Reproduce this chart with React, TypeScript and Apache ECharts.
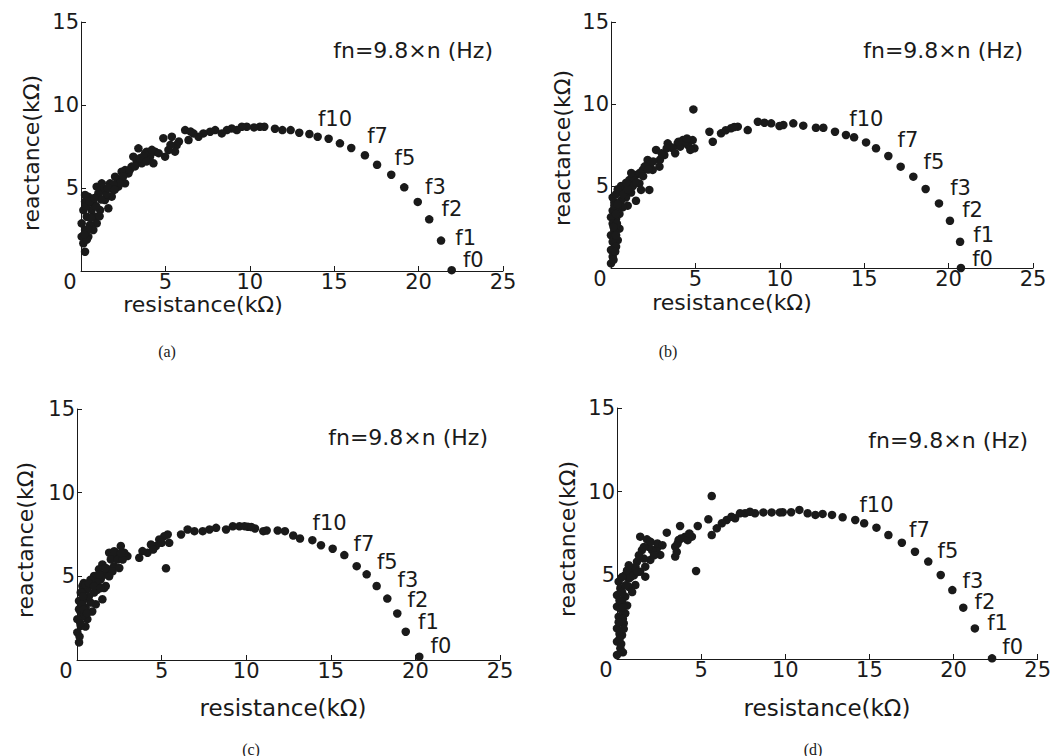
import React, { useEffect, useRef } from "react";
import * as echarts from "echarts";

// ---------- data ----------
const panelNames = ["(a)", "(b)", "(c)", "(d)"];
const freqNote = "fn=9.8×n (Hz)";
const xTitle = "resistance(kΩ)";
const yTitle = "reactance(kΩ)";
const xRange = [0, 25];
const xStep = 5;
const yRange = [0, 15];
const yStep = 5;
const labelledHarmonics = [0, 1, 2, 3, 5, 7, 10];

// [resistance kΩ, reactance kΩ], ordered from f0 (lowest frequency) upward
const pointsA: [number, number][] = [
  [21.96, 0.05], [21.33, 1.83], [20.63, 3.11], [19.95, 4.16], [19.15, 5.04], [18.38, 5.8], [17.54, 6.4], [16.82, 6.97],
  [16.01, 7.41], [15.34, 7.69], [14.67, 7.97], [14.02, 8.09], [13.53, 8.25], [12.93, 8.33], [12.42, 8.49], [11.93, 8.49],
  [11.49, 8.57], [10.86, 8.69], [10.6, 8.69], [10.25, 8.65], [9.82, 8.69], [9.53, 8.69], [9.23, 8.49], [8.93, 8.59],
  [8.64, 8.49], [8.34, 8.29], [7.95, 8.49], [7.65, 8.39], [7.25, 8.29], [6.96, 8.09], [6.66, 8.29], [6.37, 7.89],
  [6.17, 8.49], [6.5, 8.4], [5.67, 7.59], [5.57, 7.19], [5.38, 8.09], [5.18, 7.29], [4.98, 6.89], [4.88, 8.0],
  [4.39, 7.19], [4.29, 6.49], [4.09, 6.89], [3.89, 7.19], [3.8, 7.09], [3.6, 6.49], [3.4, 7.39], [3.3, 6.59],
  [3.1, 6.89], [3.0, 6.29], [2.81, 5.88], [2.61, 6.08], [2.41, 5.98], [2.61, 5.28], [2.21, 5.48], [2.21, 5.08],
  [2.02, 5.68], [1.72, 5.28], [1.92, 4.88], [1.82, 4.48], [1.32, 4.88], [1.23, 5.28], [1.62, 3.78], [1.42, 4.28],
  [1.03, 4.68], [0.93, 5.08], [0.73, 4.08], [0.43, 4.48], [0.24, 4.18], [0.24, 4.58], [1.13, 3.67], [0.63, 3.67],
  [0.14, 3.67], [0.34, 3.27], [0.83, 3.27], [0.93, 2.87], [0.53, 2.77], [0.04, 2.87], [0.24, 2.47], [0.73, 2.47],
  [0.04, 2.07], [0.43, 2.07], [0.14, 1.67], [0.24, 1.16], [2.9, 6.1], [3.2, 6.3], [3.5, 6.8], [3.7, 6.9],
  [2.5, 5.7], [2.3, 5.3], [1.9, 5.2], [1.5, 4.6], [1.6, 5.0], [1.2, 4.3], [0.9, 3.9], [0.6, 3.2],
  [0.4, 2.5], [0.3, 3.9], [0.5, 4.2], [0.8, 4.4], [4.6, 7.1], [4.2, 7.3], [5.3, 7.6], [5.8, 7.8],
  [3.9, 6.6], [2.0, 4.9], [1.1, 3.3], [0.35, 1.9], [0.2, 2.2],
];

const pointsB: [number, number][] = [
  [20.73, 0.0], [20.68, 1.6], [20.08, 2.88], [19.43, 3.94], [18.64, 4.82], [17.91, 5.57], [17.16, 6.18], [16.43, 6.83],
  [15.7, 7.3], [15.11, 7.66], [14.4, 7.97], [13.92, 8.11], [13.27, 8.31], [12.58, 8.55], [12.14, 8.55], [11.39, 8.68],
  [10.8, 8.82], [10.21, 8.72], [9.98, 8.66], [9.49, 8.82], [9.09, 8.86], [8.7, 8.92], [8.1, 8.41], [7.51, 8.62],
  [7.11, 8.52], [6.52, 8.21], [6.03, 7.7], [5.83, 8.31], [6.8, 8.4], [7.3, 8.6], [4.88, 9.67], [4.94, 7.3],
  [4.84, 7.8], [4.55, 7.5], [4.25, 7.8], [3.95, 7.6], [3.66, 7.3], [3.36, 7.6], [3.16, 6.89], [2.67, 7.2],
  [2.87, 6.18], [2.47, 5.98], [2.17, 6.59], [1.88, 5.98], [1.48, 5.67], [1.68, 5.16], [1.09, 5.37], [0.69, 4.96],
  [1.19, 4.6], [2.27, 4.76], [1.78, 4.76], [1.48, 4.1], [0.89, 4.3], [0.99, 3.8], [0.59, 4.1], [0.2, 4.0],
  [0.1, 4.3], [0.69, 3.7], [0.4, 3.6], [0.1, 3.5], [0.3, 3.0], [0.0, 3.1], [0.1, 2.7], [0.5, 2.4],
  [0.2, 2.3], [0.0, 2.0], [0.4, 1.7], [0.1, 1.6], [0.3, 1.3], [0.0, 1.1], [0.1, 0.69], [0.0, 0.28],
  [3.5, 7.4], [4.1, 7.4], [4.4, 7.7], [2.9, 6.6], [2.3, 6.3], [1.3, 5.5], [1.0, 5.1], [1.3, 5.0],
  [0.8, 4.6], [0.3, 4.5], [0.5, 3.3], [0.2, 2.0], [0.25, 1.0], [0.35, 2.7], [2.0, 6.2], [1.7, 5.8],
  [3.8, 7.0], [4.7, 7.2], [0.6, 5.0], [0.2, 3.8], [0.4, 4.8], [0.7, 4.5], [1.0, 4.8], [1.5, 5.2],
  [1.9, 5.6], [2.5, 6.5], [3.0, 7.0], [3.3, 7.3], [4.0, 7.7], [4.5, 7.9], [2.2, 6.0], [1.2, 5.8],
  [0.9, 5.2], [0.15, 2.5], [0.3, 2.0], [0.15, 0.5], [0.4, 3.9], [0.3, 3.3],
];

const pointsC: [number, number][] = [
  [20.23, 0.2], [19.43, 1.69], [18.93, 2.78], [18.34, 3.67], [17.71, 4.42], [17.12, 5.12], [16.53, 5.61], [15.8, 6.27],
  [15.11, 6.65], [14.42, 6.86], [13.91, 7.16], [13.18, 7.26], [12.78, 7.44], [12.29, 7.7], [11.86, 7.74], [11.21, 7.74],
  [11.01, 7.7], [10.52, 7.86], [10.1, 7.96], [9.6, 7.99], [9.21, 7.99], [8.81, 7.8], [8.22, 7.9], [7.83, 7.8],
  [7.43, 7.7], [6.94, 7.7], [6.54, 7.8], [6.15, 7.5], [9.9, 8.0], [10.3, 7.95], [5.45, 7.0], [5.36, 7.5],
  [5.16, 7.4], [4.86, 7.2], [4.66, 6.81], [4.37, 6.9], [4.17, 6.41], [3.87, 6.51], [3.68, 6.11], [5.26, 5.48],
  [2.98, 6.21], [2.79, 6.41], [2.59, 6.81], [2.29, 6.21], [1.9, 6.41], [2.19, 5.61], [2.0, 6.01], [1.5, 5.71],
  [1.8, 5.42], [1.3, 5.42], [1.01, 5.02], [1.7, 4.42], [1.4, 4.82], [1.21, 4.62], [0.91, 4.52], [0.32, 4.42],
  [1.5, 3.63], [1.01, 4.03], [0.61, 4.23], [0.22, 4.03], [1.11, 3.33], [0.81, 3.43], [0.41, 3.63], [0.12, 3.53],
  [0.51, 3.13], [0.12, 3.04], [0.61, 2.44], [0.32, 2.64], [0.02, 2.44], [0.22, 2.04], [0.02, 1.65], [0.12, 1.05],
  [2.4, 6.0], [2.1, 5.3], [1.6, 5.1], [1.2, 4.2], [0.7, 3.8], [0.3, 3.3], [0.5, 2.0], [0.2, 2.9],
  [0.8, 4.8], [1.9, 5.0], [2.7, 6.0], [4.5, 6.6], [5.0, 7.0], [0.9, 2.9], [0.4, 4.6], [1.6, 4.3],
  [2.5, 5.5], [0.3, 4.0], [0.5, 4.5], [0.7, 4.6], [1.0, 4.4], [1.3, 5.1], [1.7, 5.5], [2.2, 6.5],
  [2.6, 6.4], [0.4, 3.0], [0.2, 2.2], [0.15, 1.4], [0.35, 3.8], [1.4, 4.3], [0.6, 2.8],
];

const pointsD: [number, number][] = [
  [22.29, 0.04], [21.27, 1.83], [20.58, 3.07], [19.93, 4.12], [19.24, 5.02], [18.5, 5.82], [17.71, 6.41], [16.93, 6.95],
  [16.13, 7.41], [15.42, 7.85], [14.69, 8.11], [14.16, 8.31], [13.41, 8.47], [12.78, 8.61], [12.22, 8.67], [11.79, 8.61],
  [11.33, 8.71], [10.84, 8.91], [10.35, 8.77], [9.85, 8.77], [9.68, 8.76], [9.19, 8.76], [8.7, 8.76], [8.2, 8.71],
  [7.61, 8.71], [7.31, 8.71], [7.02, 8.41], [6.52, 8.31], [6.23, 8.11], [5.93, 7.81], [5.63, 7.41], [5.63, 9.74],
  [5.43, 8.35], [6.8, 8.5], [7.9, 8.8], [4.8, 7.95], [4.7, 5.26], [4.45, 7.31], [4.05, 7.31], [3.66, 7.11],
  [3.75, 7.95], [3.46, 6.71], [3.46, 6.12], [2.96, 7.55], [2.57, 6.22], [2.37, 6.61], [2.08, 6.51], [1.88, 6.71],
  [1.48, 6.51], [1.38, 7.31], [1.78, 7.15], [1.98, 5.92], [1.68, 5.52], [1.19, 5.82], [1.68, 4.92], [1.38, 5.22],
  [0.89, 5.22], [0.49, 5.02], [1.09, 4.42], [0.69, 4.32], [0.1, 4.62], [0.2, 4.22], [0.49, 3.73], [0.0, 3.82],
  [0.3, 3.43], [0.0, 3.13], [0.49, 2.73], [0.1, 2.53], [0.4, 2.13], [0.0, 1.83], [0.3, 1.43], [0.0, 1.04],
  [0.2, 0.64], [0.0, 0.24], [1.1, 5.5], [1.6, 6.0], [2.2, 6.2], [0.7, 4.8], [0.3, 4.0], [0.2, 3.0],
  [0.35, 2.4], [0.15, 1.5], [0.25, 0.9], [3.8, 7.2], [4.2, 7.1], [0.6, 3.2], [0.8, 4.9], [1.3, 6.2],
  [3.55, 6.4], [0.3, 4.9], [0.6, 5.3], [1.0, 5.0], [0.9, 4.0], [0.5, 4.4], [0.15, 3.5], [0.35, 3.1],
  [0.1, 2.2], [0.4, 1.8], [0.15, 1.2], [0.35, 0.4], [2.4, 6.9], [2.7, 6.8], [1.6, 6.7], [2.0, 7.0],
  [3.6, 6.9], [4.3, 7.5], [1.2, 5.2], [0.7, 5.6],
];

const panelPoints = [pointsA, pointsB, pointsC, pointsD];

// ---------- layout & style ----------
const grids = [
  { left: 81, top: 22, width: 422, height: 249 },
  { left: 611, top: 22, width: 422, height: 246 },
  { left: 77, top: 409, width: 423, height: 251 },
  { left: 617, top: 408, width: 422, height: 251 },
];
// label offsets (px) for f0,f1,f2,f3,f5,f7,f10
const labelOffsets = [
  [[7, -10], [10, -3], [8, -10], [3, -15], [-1, -17], [-2, -19], [-15, -20]],
  [[7, -9], [9, -7], [8, -11], [7, -15], [6, -15], [5, -16], [-9, -18]],
  [[7, -11], [8, -10], [6, -13], [6, -19], [6, -12], [5, -11], [-4, -17]],
  [[6, -11], [8, -5], [7, -6], [6, -9], [5, -11], [3, -13], [-9, -18]],
];
const notePos = [[493, 50], [1023, 50], [488, 437], [1028, 440]];
const xTitlePos = [[203, 304], [732, 302], [283, 708], [827, 708]];
const xTitleSize = [22, 22, 23, 23];
const yTitlePos = [[31, 153], [562, 148], [25, 540], [567, 539]];
const captionPos = [[167, 351], [668, 351], [251, 749], [813, 749]];

const FONT = "'DejaVu Sans', 'Liberation Sans', sans-serif";
const SERIF = "'Liberation Serif', 'DejaVu Serif', serif";
const INK = "#1a1a1a";

function textEl(text: string, x: number, y: number, size: number, family: string, align: string, rotation = 0) {
  return {
    type: "text",
    x,
    y,
    rotation,
    silent: true,
    style: {
      text,
      x: 0,
      y: 0,
      fill: INK,
      font: `${size}px ${family}`,
      align,
      textAlign: align,
      verticalAlign: "middle",
      textVerticalAlign: "middle",
    },
  };
}

export default function App() {
  const ref = useRef<HTMLDivElement>(null);
  useEffect(() => {
    if (!ref.current) return;
    const chart = echarts.init(ref.current, undefined, { renderer: "svg" });

    const xAxis = grids.map((_, i) => ({
      type: "value",
      gridIndex: i,
      min: xRange[0],
      max: xRange[1],
      interval: xStep,
      splitLine: { show: false },
      axisLine: { show: true, lineStyle: { color: INK, width: 1 } },
      axisTick: { show: true, inside: true, length: 5, lineStyle: { color: INK } },
      axisLabel: {
        show: true,
        margin: 1,
        color: INK,
        fontFamily: FONT,
        fontSize: 21,
        lineHeight: 19,
        formatter: (v: number) => (v === 0 ? "{z|0}" : String(v)),
        rich: { z: { fontFamily: FONT, fontSize: 21, lineHeight: 19, color: INK, padding: [0, 22, 0, 0] } },
      },
    }));
    const yAxis = grids.map((_, i) => ({
      type: "value",
      gridIndex: i,
      min: yRange[0],
      max: yRange[1],
      interval: yStep,
      splitLine: { show: false },
      axisLine: { show: true, lineStyle: { color: INK, width: 1 } },
      axisTick: { show: true, inside: true, length: 5, lineStyle: { color: INK } },
      axisLabel: {
        show: true,
        margin: 2,
        color: INK,
        fontFamily: FONT,
        fontSize: 21,
        formatter: (v: number) => (v === 0 ? "" : String(v)),
      },
    }));

    const series = panelPoints.map((pts, i) => ({
      type: "scatter",
      xAxisIndex: i,
      yAxisIndex: i,
      symbol: "circle",
      symbolSize: 8.5,
      itemStyle: { color: INK, opacity: 1 },
      silent: true,
      data: pts.map((p, k) => {
        const li = labelledHarmonics.indexOf(k);
        if (li < 0) return { value: p };
        return {
          value: p,
          label: {
            show: true,
            formatter: "f" + labelledHarmonics[li],
            position: "right",
            distance: 0,
            offset: labelOffsets[i][li],
            color: INK,
            fontFamily: FONT,
            fontSize: 21,
            lineHeight: 19,
          },
        };
      }),
    }));

    const graphics: any[] = [];
    for (let i = 0; i < 4; i++) {
      graphics.push(textEl(freqNote, notePos[i][0], notePos[i][1], 22, FONT, "right"));
      graphics.push(textEl(xTitle, xTitlePos[i][0], xTitlePos[i][1], xTitleSize[i], FONT, "center"));
      graphics.push(textEl(yTitle, yTitlePos[i][0], yTitlePos[i][1], 22, FONT, "center", Math.PI / 2));
      graphics.push(textEl(panelNames[i], captionPos[i][0], captionPos[i][1], 16, SERIF, "center"));
    }

    chart.setOption({
      animation: false,
      backgroundColor: "#ffffff",
      grid: grids.map((g) => ({ ...g, containLabel: false })),
      xAxis,
      yAxis,
      series,
      graphic: { elements: graphics },
    });
    return () => chart.dispose();
  }, []);
  return (
    <div
      ref={ref}
      style={{ position: "fixed", left: 0, top: 0, width: 1054, height: 756, background: "#fff" }}
    />
  );
}
